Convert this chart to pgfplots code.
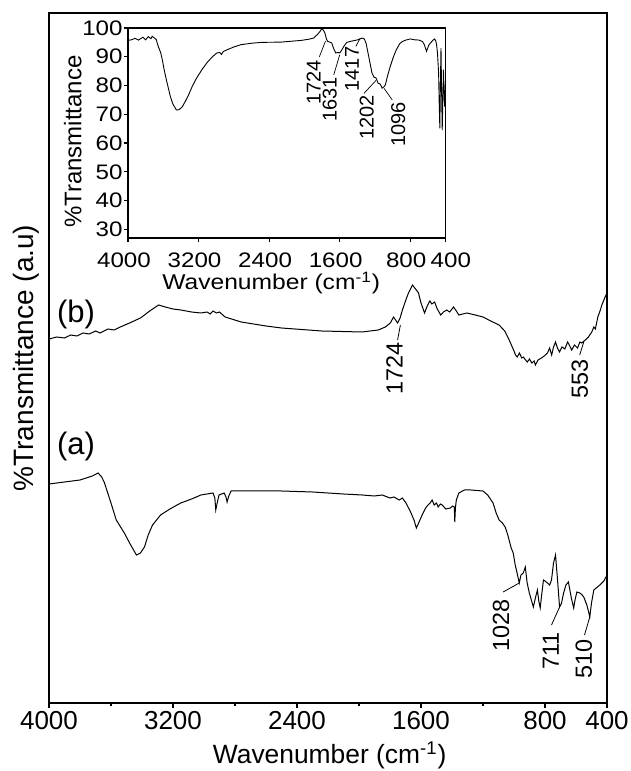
\documentclass[border=0pt]{standalone}
\usepackage{fontspec}
\setmainfont{Liberation Sans}
\newfontfamily\insetfont[FakeStretch=1.15]{Liberation Sans}
\usepackage{pgfplots}
\pgfplotsset{compat=1.18}
\begin{document}
\begin{tikzpicture}
\path[use as bounding box] (-24.5pt,-34pt) rectangle (291pt,351.5pt);
\begin{axis}[name=main, at={(0pt,0pt)}, anchor=south west, scale only axis,
  width=279pt, height=345pt, x dir=reverse, xmin=400, xmax=4000, ymin=0, ymax=690,
  xtick={4000,3200,2400,1600,800,400}, minor xtick={3600,2800,2000,1200},
  ytick=\empty, tick align=outside, xtick pos=left,
  major tick length=2.5pt, minor tick length=1.5pt,
  axis line style={line width=1pt}, tick style={line width=0.8pt, black},
  /pgf/number format/assume math mode=true, /pgf/number format/1000 sep={},
  xticklabel style={font=\fontsize{13}{15}\selectfont, inner sep=0pt, anchor=base, yshift=-10.5pt},
  xlabel={Wavenumber (cm\textsuperscript{-1})},
  xlabel style={font=\fontsize{13.2}{15}\selectfont, inner sep=0pt, at={(axis description cs:0.503,0)}, anchor=base, yshift=-30pt},
  ylabel={\%Transmittance (a.u)},
  ylabel style={font=\fontsize{14}{16}\selectfont, inner sep=0pt, at={(axis description cs:-0.0269,0.5)}, anchor=base},
  clip=false]
\addplot[black, line width=0.5pt] coordinates {(4000,364)(3950,366)(3900,365)(3860,368)(3820,367)(3780,370)(3740,369)(3700,372)(3670,370)(3620,374)(3580,373)(3540,376)(3480,380)(3410,385)(3350,392)(3293,398)(3250,396)(3200,394)(3150,393)(3080,391)(3020,390)(2980,391)(2960,389)(2942,392)(2920,390)(2900,391)(2864,386)(2760,381)(2600,377)(2500,375)(2240,372)(1980,371)(1876,373)(1830,376)(1798,380)(1777,386)(1760,382)(1751,380)(1735,385)(1720,393)(1700,402)(1681,410)(1668,414)(1655,418)(1640,415)(1616,410)(1600,400)(1577,390)(1560,397)(1543,402)(1530,399)(1512,401)(1495,394)(1473,388)(1455,391)(1434,393)(1415,391)(1390,396)(1372,392)(1356,388)(1330,389)(1304,390)(1250,388)(1200,386)(1150,382)(1096,378)(1060,372)(1031,363)(1000,352)(990,348)(979,346)(965,350)(950,345)(940,346)(925,343)(914,341)(900,344)(885,340)(870,342)(862,338)(845,343)(823,345)(805,347)(784,350)(770,355)(757,348)(745,356)(732,361)(720,355)(706,351)(690,356)(672,354)(654,361)(640,357)(628,353)(610,358)(590,355)(575,361)(563,360)(540,363)(520,366)(498,371)(485,376)(475,374)(459,386)(445,392)(433,398)(415,405)(400,410)};
\addplot[black, line width=0.5pt] coordinates {(4000,219)(3900,221)(3800,223)(3720,227)(3683,230)(3660,226)(3644,221)(3600,200)(3566,183)(3514,170)(3480,160)(3436,148)(3410,150)(3384,156)(3360,168)(3332,178)(3280,188)(3220,194)(3150,200)(3080,204)(3020,208)(2942,210)(2930,205)(2924,193)(2915,200)(2903,208)(2870,210)(2858,206)(2851,201)(2840,207)(2825,212)(2700,212)(2500,212)(2300,211)(2100,209)(1980,208)(1900,207)(1850,208)(1800,205)(1775,206)(1740,203)(1720,205)(1697,200)(1670,192)(1645,183)(1630,175)(1615,180)(1593,188)(1570,195)(1555,198)(1541,200)(1528,203)(1515,198)(1500,200)(1489,196)(1475,199)(1463,198)(1440,194)(1411,195)(1395,197)(1385,196)(1382,181)(1378,195)(1372,203)(1356,210)(1320,213)(1278,213)(1200,212)(1170,208)(1148,203)(1135,200)(1115,190)(1096,183)(1075,180)(1057,176)(1040,168)(1018,155)(1005,150)(992,138)(980,130)(966,120)(955,128)(940,130)(927,136)(915,120)(901,110)(888,103)(875,96)(862,105)(849,113)(840,102)(831,95)(820,110)(810,123)(800,122)(784,120)(770,118)(758,123)(745,140)(732,148)(720,125)(706,96)(693,100)(680,110)(665,118)(649,121)(630,105)(615,95)(605,104)(594,111)(575,110)(560,108)(550,106)(530,98)(520,92)(511,86)(500,100)(485,113)(470,115)(446,118)(420,122)(400,128)};
\node[font=\fontsize{15.5}{17}\selectfont, anchor=base west, inner sep=0pt] at (axis cs:3950,380) {(b)};
\node[font=\fontsize{15.5}{17}\selectfont, anchor=base west, inner sep=0pt] at (axis cs:3950,248) {(a)};
\begin{scope}[every node/.style={font=\fontsize{11.7}{13}\selectfont, rotate=90, anchor=east, inner sep=0pt}]
\node at (axis cs:1772,361) {1724};
\node at (axis cs:576,344) {553};
\node at (axis cs:1083,104) {1028};
\node at (axis cs:763,71) {711};
\node at (axis cs:550,64) {510};
\end{scope}
\draw[line width=0.4pt] (axis cs:1751,363) -- (axis cs:1733,378);
\draw[line width=0.4pt] (axis cs:576,348) -- (axis cs:550,361);
\draw[line width=0.4pt] (axis cs:1070,111) -- (axis cs:966,120);
\draw[line width=0.4pt] (axis cs:758,78) -- (axis cs:706,96);
\draw[line width=0.4pt] (axis cs:545,68) -- (axis cs:511,86);
\end{axis}
\begin{axis}[at={(39.5pt,232.5pt)}, anchor=south west, scale only axis,
  width=158.75pt, height=105pt, x dir=reverse, xmin=400, xmax=4000, ymin=27, ymax=100,
  xtick={4000,3200,2400,1600,800,400},
  xticklabels={4000,3200,2400,1600,800\hspace{2.7pt},\hspace{9.3pt}400},
  ytick={30,40,50,60,70,80,90,100},
  tick align=outside, xtick pos=left, ytick pos=left, major tick length=2pt,
  axis line style={line width=0.6pt}, tick style={line width=0.6pt, black},
  /pgf/number format/assume math mode=true, /pgf/number format/1000 sep={},
  xticklabel style={font=\insetfont\fontsize{10.5}{12}\selectfont, inner sep=0pt, anchor=base, yshift=-13pt, xshift=-2pt},
  yticklabel style={font=\insetfont\fontsize{10.5}{12}\selectfont, inner sep=0pt, anchor=east, xshift=-0.5pt},
  xlabel={Wavenumber (cm\textsuperscript{-1})},
  xlabel style={font=\insetfont\fontsize{10.7}{12}\selectfont, inner sep=0pt, at={(axis description cs:0.451,0)}, anchor=base, yshift=-26pt},
  ylabel={\%Transmittance},
  ylabel style={font=\fontsize{12}{14}\selectfont, inner sep=0pt, at={(axis description cs:-0.1467,0.459)}, anchor=base},
  clip=false]
\addplot[black, line width=0.45pt] coordinates {(4000,95.7)(3960,95.9)(3920,96.4)(3880,95.8)(3863,96.2)(3830,96.8)(3800,95.9)(3770,97.0)(3740,96.3)(3726,97.1)(3700,96.5)(3680,96)(3657,93.6)(3630,91.5)(3611,89)(3590,85.5)(3565,82)(3540,78.8)(3520,76.2)(3490,73.5)(3451,71.5)(3420,71.6)(3383,72.7)(3350,74.5)(3314,76.7)(3270,79.8)(3222,82.6)(3160,85.6)(3108,87.8)(3050,89.8)(2994,91.3)(2960,91.5)(2940,90.8)(2920,91.8)(2879,92.4)(2800,93.4)(2719,94.2)(2600,94.7)(2491,95)(2262,95.1)(2033,95.7)(1950,96.1)(1896,96.5)(1850,97.8)(1820,98.9)(1805,99.7)(1785,99.3)(1768,98.3)(1750,96.2)(1736,95.3)(1720,95.2)(1690,94.8)(1665,92.6)(1644,91.3)(1620,91.5)(1599,91.3)(1575,92.4)(1553,93.6)(1520,95.0)(1484,95.3)(1440,95.6)(1393,95.9)(1347,96.5)(1320,96.2)(1301,94.8)(1270,90)(1233,84.3)(1210,82.9)(1187,82.6)(1164,80.8)(1140,80.5)(1118,79.1)(1100,79.5)(1082,80.2)(1060,83)(1027,86.6)(990,90)(958,92.4)(920,94.5)(890,95.3)(850,95.8)(798,96.2)(750,95.9)(700,95.8)(661,95.3)(640,94.2)(615,91.9)(590,94)(570,94.8)(540,95.8)(524,96.2)(510,95.5)(501,94.2)(490,91)(478,84.3)(470,72)(464,65.1)(458,80)(451,93)(445,80)(437,64.5)(430,75)(423,85.5)(416,78)(409,72.7)(405,76)(400,80.8)};
\begin{scope}[every node/.style={font=\fontsize{10}{12}\selectfont, rotate=90, anchor=east, inner sep=0pt}]
\node at (axis cs:1896,89) {1724};
\node at (axis cs:1713,83.1) {1631};
\node at (axis cs:1461,93.6) {1417};
\node at (axis cs:1292,76.7) {1202};
\node at (axis cs:935,74.4) {1096};
\end{scope}
\draw[line width=0.35pt] (axis cs:1830,90) -- (axis cs:1760,95.5);
\draw[line width=0.35pt] (axis cs:1667,83.7) -- (axis cs:1599,90.7);
\draw[line width=0.35pt] (axis cs:1416,93.6) -- (axis cs:1370,96.3);
\draw[line width=0.35pt] (axis cs:1324,77.3) -- (axis cs:1187,81.8);
\draw[line width=0.35pt] (axis cs:1004,75) -- (axis cs:1096,79);
\end{axis}
\end{tikzpicture}
\end{document}
